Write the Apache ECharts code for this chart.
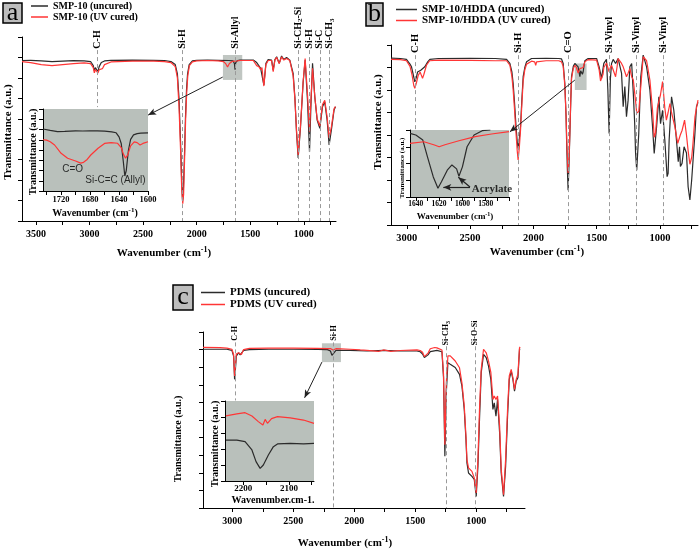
<!DOCTYPE html>
<html><head><meta charset="utf-8">
<script src="https://cdn.jsdelivr.net/npm/echarts@6/dist/echarts.min.js"></script>
<style>html,body{margin:0;padding:0;background:#fff}#c{width:700px;height:550px}</style>
</head><body><div id="c"></div>
<script>
// ---------------- DATA ----------------
// Panel a : SMP-10
const aUncured = [[3630,78.5],[3550,78.6],[3450,78.3],[3350,78],[3250,78.2],[3150,78.4],[3050,78.3],[2990,78],[2965,76],[2955,73.5],[2945,75],[2932,74.5],[2922,73],[2910,75.5],[2890,77.5],[2860,78.3],[2800,78.6],[2600,78.7],[2400,78.6],[2300,78.5],[2240,78],[2200,76.5],[2180,72],[2165,60],[2150,38],[2140,20],[2132,10],[2125,14],[2115,30],[2105,50],[2095,64],[2085,72],[2070,76.5],[2040,78.3],[2000,78.6],[1900,78.7],[1800,78.6],[1700,78.5],[1660,78.3],[1648,77],[1642,74],[1636,77.5],[1620,78.5],[1596,78.7],[1472,78.7],[1440,77.5],[1426,77.1],[1403,74.7],[1391,75.6],[1373,66.5],[1354,77.1],[1333,79],[1301,78.7],[1286,73.8],[1270,79],[1254,80.3],[1230,77.1],[1208,80.7],[1187,79],[1161,80],[1131,78.7],[1100,72.2],[1084,60.8],[1068,43],[1053,30.8],[1031,46],[1007,67.5],[988,78.7],[966,59],[947,33.8],[935,55],[919,77.1],[898,60.8],[876,49.4],[851,45.3],[826,55.9],[805,58.3],[783,49.4],[764,37.2],[743,44.5],[718,54.3],[705,55.9]];
const aCured = [[3630,78],[3550,77.5],[3450,76.5],[3350,76],[3250,76.5],[3150,77],[3050,77.3],[2990,77],[2965,75],[2955,72.5],[2945,74],[2932,73.5],[2922,72.4],[2910,74],[2880,74.5],[2860,76.5],[2800,77.8],[2600,78.2],[2400,78.2],[2300,78],[2240,77.5],[2200,75.5],[2180,70],[2165,56],[2150,34],[2140,16],[2130,8.5],[2122,13],[2113,30],[2103,50],[2093,63],[2083,71],[2068,76],[2040,77.8],[2000,78.3],[1900,78.5],[1800,78.3],[1750,78],[1730,77],[1712,75.3],[1695,77],[1670,78],[1650,78.2],[1640,77.5],[1620,78.3],[1596,78.5],[1472,78.5],[1440,76],[1420,75.5],[1403,74],[1391,75],[1373,66],[1354,76.5],[1333,78.5],[1301,78.5],[1286,73],[1270,78.7],[1254,80],[1230,77],[1208,80.3],[1187,78.7],[1161,79.5],[1131,78.5],[1100,71],[1084,60],[1068,44],[1053,32.3],[1031,47],[1007,68],[988,79.5],[966,62],[947,43.7],[935,58],[919,74.7],[898,61],[876,50],[851,46.5],[826,57],[805,59],[783,51],[764,40.6],[743,46],[718,55],[705,56]];
const aInsetUncured = [[1745,75.6],[1735,74],[1725,72.5],[1715,72.8],[1700,73.4],[1690,73.2],[1680,73.5],[1670,73.3],[1660,73],[1650,72],[1644,71],[1640,66],[1637,58],[1634,35],[1632,18.3],[1630,25],[1627,50],[1624,63],[1620,68.5],[1615,70],[1610,70.5],[1600,71]];
const aInsetCured = [[1745,62.5],[1740,62],[1735,60.1],[1729,56.1],[1720,46],[1711,40],[1700,36.6],[1693,34],[1689,35],[1684,38.5],[1679,43.9],[1669,52.1],[1660,58],[1651,59],[1642,58.2],[1637,53],[1634,45],[1631,40],[1628,44],[1624,55],[1619,60],[1615,59],[1611,56.1],[1607,58],[1600,60]];
const aPeaks = [[2925,'C-H'],[2133,'Si-H'],[1643,'Si-Allyl'],[1053,'Si-CH{s|2}-Si'],[945,'Si-H'],[851,'Si-C'],[762,'Si-CH{s|3}']];

// Panel b : SMP-10/HDDA
const bUncured = [[3125,74.2],[3050,74],[3003,73.6],[2975,71.5],[2963,70.3],[2950,67],[2937,63.6],[2925,65.5],[2915,68],[2903,68.1],[2890,68.8],[2876,69.6],[2858,70.3],[2835,72.5],[2818,73.6],[2750,74],[2500,74.1],[2300,74],[2212,73.6],[2186,71.8],[2170,68],[2160,62.9],[2150,55],[2139,45.1],[2128,37],[2121,34],[2112,38],[2102,43.7],[2092,55],[2081,65.9],[2068,70],[2054,72.6],[2015,74],[1900,74.1],[1800,74],[1778,73.8],[1765,71.8],[1752,62.9],[1742,48],[1738,37.7],[1732,25],[1726,15.5],[1720,25],[1712,40.7],[1705,55],[1699,65.9],[1685,70.5],[1673,71.8],[1660,71.5],[1647,70.3],[1640,68],[1633,65.9],[1627,68.5],[1620,68.8],[1613,67],[1607,68.1],[1600,71],[1594,73],[1568,74],[1501,74],[1481,70.3],[1462,65.2],[1444,71.8],[1423,73.6],[1412,60],[1402,40.7],[1392,65],[1383,71.8],[1370,73.6],[1351,71.8],[1331,74],[1304,67.5],[1291,52.6],[1278,61.5],[1265,48.1],[1252,55.5],[1238,70.3],[1224,71.8],[1211,58.5],[1200,45],[1193,31.8],[1184,24.4],[1168,40.7],[1152,65.9],[1133,75.5],[1106,70.3],[1080,60],[1059,43.7],[1046,31.8],[1027,43.7],[1009,57],[996,45],[980,51],[962,37.7],[944,21.5],[936,23],[928,37.7],[909,57],[891,51],[870,37.7],[856,28.1],[846,34.8],[839,26],[826,27.4],[810,34.8],[791,32],[778,17],[764,11.1],[750,20],[739,28.9],[725,40],[712,52.6],[700,54.5]];
const bCured = [[3125,73.6],[3050,73.5],[3003,73],[2975,70.5],[2960,67],[2945,62],[2937,60.7],[2925,63],[2910,66.5],[2895,68],[2885,66.5],[2876,65.2],[2865,67],[2845,71],[2820,73],[2750,73.3],[2500,73.2],[2300,73],[2212,73],[2186,71],[2170,66],[2160,60],[2150,52],[2139,42],[2128,33],[2121,28.9],[2112,34],[2102,42],[2092,53],[2081,64],[2068,69],[2054,71.5],[2015,72.8],[1990,72.5],[1982,71],[1975,72.5],[1900,73],[1800,73],[1778,72.5],[1765,70.5],[1752,62],[1742,48],[1735,35],[1726,23.1],[1718,30],[1712,42],[1705,56],[1699,65],[1685,69.5],[1673,71],[1660,70],[1647,67.5],[1640,68.5],[1633,69.5],[1620,69.6],[1607,70],[1594,72.5],[1568,73.5],[1501,73.3],[1481,69],[1470,64],[1462,63.6],[1450,67],[1444,70],[1423,72],[1402,68.1],[1392,70],[1383,71],[1370,70.3],[1351,65.9],[1340,70],[1331,74],[1304,71.8],[1291,70.3],[1278,68.1],[1265,65.9],[1252,67.5],[1238,69.6],[1224,65.9],[1211,64.4],[1193,55],[1184,49.8],[1168,50.4],[1152,61.5],[1133,74.8],[1106,73],[1080,64.4],[1059,51],[1046,39],[1035,41],[1021,52],[996,58],[980,63.7],[975,63.7],[962,52],[950,46.6],[936,50],[922,54],[909,50],[883,43.7],[860,36.3],[840,40],[826,42],[806,46.6],[791,40],[778,33],[764,27],[750,30],[740,36],[724,48.1],[712,52],[700,55.5]];
const bInsetUncured = [[1645,95],[1640,92.5],[1634,85],[1630,60],[1625,30],[1621,13],[1618,22.8],[1613,40],[1609,47.8],[1605,42],[1603,31],[1600,45],[1596,75],[1590,92.5],[1583,99],[1576,100]];
const bInsetCured = [[1645,80],[1633,82.5],[1624,77.6],[1620,75],[1615,78],[1603,84],[1589,90],[1575,94],[1560,97.5]];
const bPeaks = [[2937,'C-H'],[2121,'Si-H'],[1726,'C=O'],[1402,'Si-Vinyl'],[1187,'Si-Vinyl'],[975,'Si-Vinyl']];

// Panel c : PDMS
const cUncured = [[3240,90.2],[3100,90.2],[3044,90.2],[3003,89.6],[2989,86.3],[2981,73.1],[2975,78],[2967,86.3],[2948,88.2],[2935,87],[2925,86.7],[2907,89.6],[2860,90],[2700,90.2],[2500,90.2],[2300,90.1],[2220,90],[2195,89.2],[2183,86.7],[2170,87.5],[2150,89.6],[2033,89.6],[1896,89.2],[1760,89.6],[1623,89.2],[1486,89.2],[1459,88.8],[1440,87.5],[1425,85.5],[1410,84.5],[1395,87],[1377,88.8],[1322,89.6],[1281,88.8],[1268,74.2],[1257,29.4],[1246,64.5],[1232,82.6],[1213,81.7],[1172,79.8],[1137,75.9],[1117,69.2],[1098,56],[1084,38.9],[1076,25.6],[1063,19.9],[1035,18],[1016,16.2],[1000,6.6],[986,23.6],[973,50.3],[959,76.9],[940,87.3],[918,85.4],[899,80.6],[880,73.1],[863,56],[852,59.8],[838,52.2],[825,61.7],[808,42.7],[795,19.9],[776,6.6],[759,23.6],[743,52.2],[729,73.1],[713,77.8],[699,73.1],[686,66.4],[672,72.2],[658,74],[645,90.2],[640,90.5]];
const cCured = [[3240,91.3],[3100,91.1],[3044,90.8],[3003,90.2],[2989,87.2],[2981,75],[2975,80],[2967,87.5],[2948,88.2],[2935,87.5],[2925,87.2],[2907,90],[2860,90.7],[2700,90.8],[2500,90.8],[2300,90.7],[2220,90.6],[2195,90.6],[2175,89.8],[2165,90.2],[2150,90.5],[2033,90.2],[1950,89.8],[1896,89.6],[1800,89],[1760,89.8],[1700,89],[1623,89.5],[1486,89.8],[1459,89.5],[1440,88.5],[1425,86],[1410,85.5],[1395,88],[1377,90.5],[1340,91.2],[1322,91],[1281,89.8],[1268,76],[1257,36],[1246,70],[1232,86.5],[1213,86.4],[1172,83.5],[1137,79.7],[1117,71],[1098,58],[1084,40.8],[1076,27.5],[1063,22.8],[1035,20.8],[1016,17.1],[1000,8.5],[986,27.5],[973,56],[959,78.8],[940,90.2],[918,88.2],[899,83.5],[880,77],[863,61.7],[852,63.6],[838,61.7],[825,63.6],[808,46.5],[795,22],[776,7.6],[759,27.5],[743,56],[729,75],[713,78.8],[699,74],[686,67.4],[672,73.1],[658,76],[645,91],[640,91.5]];
const cInsetUncured = [[2238,51.2],[2214,51.2],[2196,49.2],[2181,38.8],[2172,24.2],[2163,15.8],[2156,20],[2145,32.5],[2134,42.9],[2125,46.3],[2097,47.1],[2068,46.3],[2045,47.1]];
const cInsetCured = [[2238,81.3],[2214,83.8],[2196,85.4],[2181,81.3],[2167,74.2],[2157,70],[2152,77],[2147,72.1],[2138,78],[2125,80.4],[2097,78.8],[2068,76.2],[2045,72.1]];
const cPeaks = [[2975,'C-H',95],[2170,'Si-H',95],[1248,'Si-CH{s|3}',92.4],[1008,'Si-O-Si',92.4]];

// axis ticks / labels
const aTicks = [750,1000,1250,1500,1750,2000,2250,2500,2750,3000,3250,3500];
const aTickLabels = [1000,1500,2000,2500,3000,3500];
const bTicks = [750,1000,1250,1500,1750,2000,2250,2500,2750,3000];
const bTickLabels = [1000,1500,2000,2500,3000];
const cTicks = [750,1000,1250,1500,1750,2000,2250,2500,2750,3000];
const cTickLabels = [1000,1500,2000,2500,3000];
const aInsetTicks = [1600,1620,1640,1660,1680,1700,1720,1740];
const aInsetLabels = [1600,1640,1680,1720];
const bInsetTicks = [1560,1570,1580,1590,1600,1610,1620,1630,1640];
const bInsetLabels = [1580,1600,1620,1640];
const cInsetTicks = [2050,2100,2150,2200];
const cInsetLabels = [2100,2200];

// ---------------- STYLE ----------------
const FONT = '"Liberation Serif","Times New Roman",serif';
const SANS = '"Liberation Sans",Arial,sans-serif';
const BLACK = '#2b2b2b', RED = '#ff3535', GREYBG = '#b9c0bb', DASH = '#9a9a9a';
const CLEAR = 'rgba(0,0,0,0)';

function xAx(g, min, max, ticks, labels, fs, margin, z) {
  return {type:'value', gridIndex:g, min, max, inverse:true, z: z||0,
    axisLine:{show:true, onZero:false, lineStyle:{color:'#000', width:1}},
    axisTick:{show:true, inside:false, length:4, customValues:ticks, lineStyle:{color:'#000'}},
    axisLabel:{show:true, customValues:labels, formatter: v => String(v), fontFamily:FONT, fontWeight:'bold', fontSize:fs, color:'#000', margin},
    splitLine:{show:false}};
}
function yAx(g, min, max, interval, z) {
  return {type:'value', gridIndex:g, min, max, interval, z: z||0,
    axisLine:{show:true, onZero:false, lineStyle:{color:'#000', width:1}},
    axisTick:{show:true, inside:false, length:4, lineStyle:{color:'#000'}},
    axisLabel:{show:false}, splitLine:{show:false}};
}
function line(name, xi, data, color, z, extra) {
  return Object.assign({type:'line', name, xAxisIndex:xi, yAxisIndex:xi, data, symbol:'none', showSymbol:false,
    lineStyle:{color, width:1.2}, itemStyle:{color}, z: z||2, silent:true, animation:false}, extra||{});
}
function dashes(list, top, special) {
  return {silent:true, symbol:'none', label:{show:false}, animation:false,
    lineStyle:{type:[4,3], color:DASH, width:1},
    data: list.map(p => {
      const s = special && special[p[0]];
      return [{coord:[p[0], s ? s[0] : top]}, {coord:[p[0], s ? s[1] : 0]}];
    })};
}
function arrow(from, to) {
  return [{coord:from, symbol:'none'}, {coord:to, symbol:'arrow', symbolSize:[5,8]}];
}
function note(xi, x, y, text, lab) {
  return {type:'scatter', xAxisIndex:xi, yAxisIndex:xi, symbolSize:2, itemStyle:{color:CLEAR}, silent:true, z:9, animation:false,
    data:[[x, y, text]], label:Object.assign({show:true, position:'inside', formatter:q => q.value[2], color:'#000'}, lab)};
}
function gText(x, y, text, size, rot) {
  return {type:'text', x, y, rotation: rot ? Math.PI/2 : 0, z:100,
    style:{text, fill:'#000', font:'bold '+size+'px '+FONT, textAlign:'center', textVerticalAlign:'middle', align:'center', verticalAlign:'middle',
      rich:{sup:{fontFamily:FONT, fontWeight:'bold', fontSize:Math.round(size*0.7), fill:'#000', padding:[0,0,Math.round(size*0.55),0]}}}};
}
function letterBox(x, y, w, h, ch) {
  return [{type:'rect', z:100, shape:{x, y, width:w, height:h}, style:{fill:'#bdbdbd', stroke:'#000', lineWidth:1.5}},
          {type:'text', z:101, x:x+w/2, y:y+h/2, style:{text:ch, fill:'#000', font:'26px '+FONT, textAlign:'center', textVerticalAlign:'middle', align:'center', verticalAlign:'middle'}}];
}

const grids = [
  {left:22, top:37, width:314, height:184},
  {left:43, top:109, width:105, height:82, show:true, backgroundColor:GREYBG, borderWidth:0, z:3},
  {left:391, top:45, width:307, height:180},
  {left:410, top:130, width:99, height:67, show:true, backgroundColor:GREYBG, borderWidth:0, z:3},
  {left:203, top:332, width:322, height:176},
  {left:225, top:401, width:89, height:80, show:true, backgroundColor:GREYBG, borderWidth:0, z:3}
].map(g => Object.assign({containLabel:false, outerBoundsMode:'none'}, g));

const xAxes = [
  xAx(0, 700, 3630, aTicks, aTickLabels, 10, 8),
  xAx(1, 1600, 1745, aInsetTicks, aInsetLabels, 8.5, 4, 4),
  xAx(2, 700, 3125, bTicks, bTickLabels, 10.5, 8),
  xAx(3, 1560, 1645, bInsetTicks, bInsetLabels, 7.5, 3, 4),
  xAx(4, 600, 3240, cTicks, cTickLabels, 10, 8),
  xAx(5, 2045, 2240, cInsetTicks, cInsetLabels, 9, 3, 4)
];
const yAxes = [
  yAx(0, 0, 90, 10), yAx(1, 0, 100, 12.5, 4),
  yAx(2, 0, 80, 10), yAx(3, 0, 100, 25, 4),
  yAx(4, 0, 100, 10), yAx(5, 0, 100, 20, 4)
];

const arrowLine = (data, w) => ({silent:true, symbol:['none','arrow'], symbolSize:[5,8], label:{show:false}, lineStyle:{type:'solid', color:'#222', width:w||1}, data});

const series = [
  // panel a
  line('SMP-10 (uncured)', 0, aUncured, BLACK, 3, {
    markLine: dashes(aPeaks, 83.6, {2925:[83.6, 55.7]}),
    markArea: {silent:true, itemStyle:{color:GREYBG, opacity:0.9}, data:[[{coord:[1755,81.2]},{coord:[1575,69]}]]}}),
  line('SMP-10 (UV cured)', 0, aCured, RED, 3, {markLine: arrowLine([arrow([1757,70.4],[2453,51.8])])}),
  line('a-in-u', 1, aInsetUncured, BLACK, 6),
  line('a-in-c', 1, aInsetCured, RED, 6),
  note(1, 1704, 27, 'C=O', {fontFamily:SANS, fontSize:10}),
  note(1, 1645, 13, 'Si-C=C (Allyl)', {fontFamily:SANS, fontSize:10}),
  // panel b
  line('SMP-10/HDDA (uncured)', 2, bUncured, BLACK, 3, {
    markLine: dashes(bPeaks, 75.5, {2937:[75.5, 42.2]}),
    markArea: {silent:true, itemStyle:{color:GREYBG, opacity:0.9}, data:[[{coord:[1673,71.8]},{coord:[1580,60]}]]}}),
  line('SMP-10/HDDA (UV cured)', 2, bCured, RED, 3, {markLine: arrowLine([arrow([1673,64.4],[2186,41.4])])}),
  line('b-in-u', 3, bInsetUncured, BLACK, 6, {markLine: arrowLine([arrow([1593.5,14.2],[1616.4,14.5]), arrow([1593.5,15],[1603.5,29.4])], 1.2)}),
  line('b-in-c', 3, bInsetCured, RED, 6),
  note(3, 1592, 12, 'Acrylate', {fontFamily:FONT, fontWeight:'bold', fontSize:11, align:'left'}),
  // panel c
  line('PDMS (uncured)', 4, cUncured, BLACK, 3, {
    markLine: dashes(cPeaks, 94.1, {2975:[94.1, 61.1], 1248:[91.9, 0], 1008:[91.9, 0]}),
    markArea: {silent:true, itemStyle:{color:GREYBG, opacity:0.9}, data:[[{coord:[2265,93.6]},{coord:[2109,82.9]}]]}}),
  line('PDMS (UV cured)', 4, cCured, RED, 3, {markLine: arrowLine([arrow([2265,82.9],[2407,62.6])])}),
  line('c-in-u', 5, cInsetUncured, BLACK, 6),
  line('c-in-c', 5, cInsetCured, RED, 6)
];

const legTxt = fs => ({fontFamily:FONT, fontWeight:'bold', color:'#000', fontSize:fs});
const legends = [
  {data:['SMP-10 (uncured)','SMP-10 (UV cured)'], left:31, top:1, itemWidth:17, itemHeight:1.5, itemGap:1, icon:'rect', textStyle:legTxt(10)},
  {data:['SMP-10/HDDA (uncured)','SMP-10/HDDA (UV cured)'], left:396, top:4, itemWidth:21, itemHeight:1.5, itemGap:0, icon:'rect', textStyle:legTxt(11)},
  {data:['PDMS (uncured)','PDMS (UV cured)'], left:201, top:287, itemWidth:24, itemHeight:1.5, itemGap:1, icon:'rect', textStyle:legTxt(11)}
].map(l => Object.assign({orient:'vertical', selectedMode:false, padding:0}, l));

const staticGraphics = [].concat(
  letterBox(3, 3, 19, 20, 'a'),
  letterBox(366, 3, 17, 23, 'b'),
  letterBox(173, 285, 20, 25, 'c'),
  [
    gText(164, 253, 'Wavenumber (cm{sup|-1})', 11),
    gText(8, 132, 'Transmittance (a.u.)', 11, true),
    gText(95, 213, 'Wavenumber (cm{sup|-1})', 10),
    gText(33, 152, 'Transmittance (a.u.)', 10, true),
    gText(537, 252, 'Wavenumber (cm{sup|-1})', 11),
    gText(378, 122, 'Transmittance (a.u.)', 11, true),
    gText(455, 217, 'Wavenumber (cm{sup|-1})', 9),
    gText(402, 168, 'Transmittance (a.u.)', 7, true),
    gText(345, 543, 'Wavenumber (cm{sup|-1})', 11),
    gText(178, 439, 'Transmittance (a.u.)', 10, true),
    gText(273, 500, 'Wavenumber.cm-1.', 10),
    gText(215, 444, 'Transmittance (a.u.)', 10, true)
  ]
);

const chart = echarts.init(document.getElementById('c'), null, {renderer:'canvas'});
chart.setOption({
  animation:false,
  backgroundColor:'#fff',
  grid: grids, xAxis: xAxes, yAxis: yAxes, series, legend: legends
});

// rotated peak labels, positioned through the chart's own axes
function peakText(gridIndex, list, v, fs) {
  return list.map(p => {
    const pt = chart.convertToPixel({gridIndex}, [p[0], p[2] !== undefined ? p[2] : v]);
    return {type:'text', x:pt[0], y:pt[1], rotation:Math.PI/2, z:100,
      style:{text:p[1], fill:'#000', font:'bold '+fs+'px '+FONT, textAlign:'left', textVerticalAlign:'middle', align:'left', verticalAlign:'middle',
        rich:{s:{fontFamily:FONT, fontWeight:'bold', fontSize:Math.round(fs*0.72), fill:'#000', padding:[5,0,0,0]}}}};
  });
}
chart.setOption({graphic: staticGraphics.concat(
  peakText(0, aPeaks, 84.3, 10),
  peakText(2, bPeaks, 76.4, 10.5),
  peakText(4, cPeaks, 95, 8)
)});
</script></body></html>
